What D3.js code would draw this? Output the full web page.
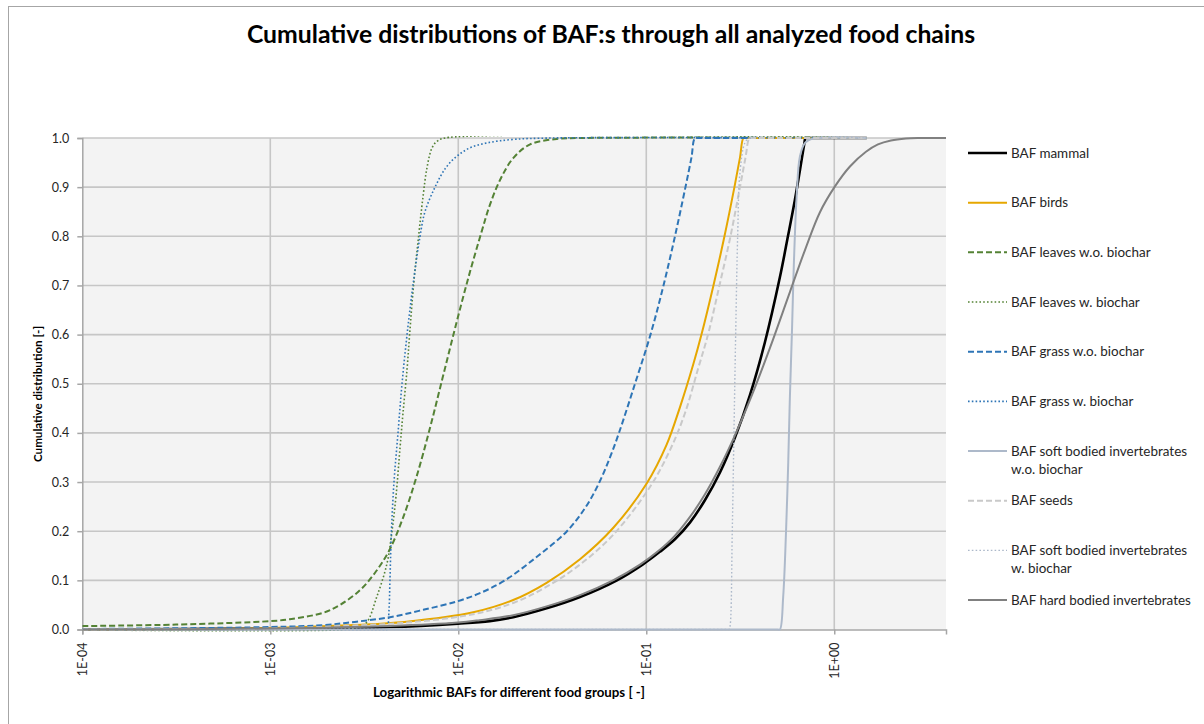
<!DOCTYPE html>
<html><head><meta charset="utf-8">
<script src="https://cdn.jsdelivr.net/npm/d3@7"></script>
<style>
html,body{margin:0;padding:0;background:#fff;}
svg{display:block;font-family:Lato,"Liberation Sans",sans-serif;}
</style></head>
<body><svg id="c" width="1204" height="724"></svg>
<script>
// ---------- data ----------
const chartTitle = "Cumulative distributions of BAF:s through all analyzed food chains";
const yTitle = "Cumulative distribution [-]";
const xTitle = "Logarithmic BAFs for different food groups [ -]";
const xTickValues = [1e-4, 1e-3, 1e-2, 1e-1, 1];
const xTickLabels = ["1E-04", "1E-03", "1E-02", "1E-01", "1E+00"];
const yTickValues = [0, 0.1, 0.2, 0.3, 0.4, 0.5, 0.6, 0.7, 0.8, 0.9, 1.0];

const seriesNames = ["BAF mammal", "BAF birds", "BAF leaves w.o. biochar", "BAF leaves w. biochar",
  "BAF grass w.o. biochar", "BAF grass w. biochar", "BAF soft bodied invertebrates\nw.o. biochar",
  "BAF seeds", "BAF soft bodied invertebrates\nw. biochar", "BAF hard bodied invertebrates"];

const mammalBAF = [0.0001, 0.001, 0.00433, 0.00996, 0.0147, 0.0196, 0.0295, 0.0444, 0.0698, 0.096, 0.118, 0.142, 0.171, 0.205, 0.247, 0.296, 0.356, 0.428, 0.514, 0.567, 0.618, 0.657, 0.694, 0.703, 0.725, 1.49];
const mammalCum = [0, 0.002, 0.005, 0.012, 0.017, 0.025, 0.043, 0.066, 0.1, 0.1325, 0.158, 0.1835, 0.218, 0.263, 0.32, 0.39, 0.477, 0.585, 0.717, 0.8, 0.875, 0.935, 0.99, 1.0, 1.0, 1.0];

const birdsBAF = [0.0001, 0.001, 0.00235, 0.00531, 0.0120, 0.0196, 0.0295, 0.0444, 0.0668, 0.1005, 0.128, 0.151, 0.178, 0.1966, 0.2277, 0.2606, 0.2944, 0.3151, 0.3289, 0.34, 1.49];
const birdsCum = [0, 0.003, 0.008, 0.016, 0.035, 0.06, 0.095, 0.143, 0.207, 0.297, 0.375, 0.452, 0.54, 0.6, 0.7, 0.8, 0.9, 0.96, 1.0, 1.0, 1.0];

const leavesWoBAF = [0.0001, 0.000315, 0.001, 0.00127, 0.00191, 0.00235, 0.0030, 0.0036, 0.00428, 0.00508, 0.00601, 0.00707, 0.00824, 0.0096, 0.0113, 0.0133, 0.0147, 0.0167, 0.0196, 0.0241, 0.0334, 0.0444, 1.49];
const leavesWoCum = [0.007, 0.01, 0.017, 0.021, 0.034, 0.05, 0.08, 0.115, 0.16, 0.227, 0.312, 0.41, 0.511, 0.612, 0.715, 0.809, 0.863, 0.915, 0.959, 0.987, 0.998, 1.0, 1.0];

const leavesWBAF = [0.0001, 0.00282, 0.00323, 0.00369, 0.00418, 0.00444, 0.00466, 0.0049, 0.00508, 0.00534, 0.00551, 0.00578, 0.00611, 0.00649, 0.00682, 0.00725, 0.0077, 0.0085, 1.49];
const leavesWCum = [0.0, 0.003, 0.013, 0.067, 0.135, 0.2, 0.27, 0.37, 0.44, 0.53, 0.6, 0.7, 0.79, 0.88, 0.94, 0.98, 0.993, 1.0, 1.0];

const grassWoBAF = [0.0001, 0.001, 0.00191, 0.00288, 0.00433, 0.00651, 0.0098, 0.01304, 0.01771, 0.0266, 0.03786, 0.04779, 0.05638, 0.0641, 0.07158, 0.08709, 0.1053, 0.1235, 0.1421, 0.1616, 0.1739, 0.1816, 0.19, 1.49];
const grassWoCum = [0.001, 0.005, 0.009, 0.016, 0.025, 0.04, 0.057, 0.074, 0.1, 0.15, 0.2, 0.25, 0.3, 0.35, 0.4, 0.5, 0.6, 0.7, 0.8, 0.9, 0.96, 1.0, 1.0, 1.0];

const grassWBAF = [0.0001, 0.0041, 0.00418, 0.00428, 0.00433, 0.00441, 0.00455, 0.00478, 0.00502, 0.00534, 0.00574, 0.00626, 0.00665, 0.00752, 0.0086, 0.00984, 0.01154, 0.01421, 0.0195, 0.0319, 1.49];
const grassWCum = [0, 0, 0, 0.04, 0.1, 0.2, 0.3, 0.4, 0.5, 0.6, 0.7, 0.8, 0.85, 0.9, 0.94, 0.963, 0.98, 0.99, 0.997, 1.0, 1.0];

const softWoBAF = [0.0001, 0.5, 0.514, 0.535, 0.554, 0.569, 0.581, 0.596, 0.61, 0.631, 0.657, 0.699, 0.773, 0.839, 1.49];
const softWoCum = [0, 0, 0, 0.067, 0.2, 0.339, 0.475, 0.61, 0.746, 0.882, 0.963, 0.99, 0.999, 1.0, 1.0];

const seedsBAF = [0.0001, 0.001, 0.00235, 0.00531, 0.0120, 0.0196, 0.0295, 0.0444, 0.0668, 0.1046, 0.1337, 0.1606, 0.1884, 0.213, 0.2451, 0.2805, 0.3151, 0.3371, 0.3539, 0.365, 1.49];
const seedsCum = [0, 0.002, 0.007, 0.014, 0.031, 0.054, 0.087, 0.132, 0.193, 0.29, 0.365, 0.44, 0.53, 0.6, 0.7, 0.8, 0.9, 0.96, 1.0, 1.0, 1.0];

const softWBAF = [0.0001, 0.27, 0.2754, 0.2787, 0.2867, 0.2927, 0.2989, 0.3063, 0.3151, 0.335, 0.356, 1.49];
const softWCum = [0, 0, 0, 0.005, 0.2, 0.4, 0.6, 0.8, 0.93, 0.99, 1.0, 1.0];

const hardBAF = [0.0001, 0.001, 0.00433, 0.00996, 0.013, 0.0196, 0.0295, 0.0444, 0.0665, 0.0926, 0.1154, 0.1421, 0.1708, 0.2052, 0.2466, 0.2963, 0.3561, 0.455, 0.5813, 0.6985, 0.8392, 1.0086, 1.2117, 1.4744, 1.708, 2.002, 2.406, 2.857, 3.93];
const hardCum = [0, 0.002, 0.007, 0.014, 0.019, 0.029, 0.047, 0.07, 0.1, 0.132, 0.159, 0.191, 0.229, 0.275, 0.331, 0.395, 0.467, 0.573, 0.687, 0.772, 0.849, 0.9015, 0.942, 0.972, 0.987, 0.995, 0.999, 1.0, 1.0];

const seriesBAF = [mammalBAF, birdsBAF, leavesWoBAF, leavesWBAF, grassWoBAF, grassWBAF, softWoBAF, seedsBAF, softWBAF, hardBAF];
const seriesCum = [mammalCum, birdsCum, leavesWoCum, leavesWCum, grassWoCum, grassWCum, softWoCum, seedsCum, softWCum, hardCum];

// ---------- styles ----------
const seriesStyle = [
  {color: "#000000", width: 2.6, dash: null},
  {color: "#e6a700", width: 2, dash: null},
  {color: "#548235", width: 2, dash: "6,3"},
  {color: "#548235", width: 1.6, dash: "1.6,2.2"},
  {color: "#2e75b6", width: 2, dash: "6,3"},
  {color: "#2e75b6", width: 1.6, dash: "1.6,2.2"},
  {color: "#adb9ca", width: 2, dash: null},
  {color: "#c9c9c9", width: 2, dash: "6,3"},
  {color: "#adb9ca", width: 1.4, dash: "1.6,2.2"},
  {color: "#808080", width: 2, dash: null}
];

const svg = d3.select("#c");
const plot = {left: 82.3, right: 946, top: 138, bottom: 629.5};

// chart border
svg.append("rect").attr("x", 8.5).attr("y", 6.5).attr("width", 1400).attr("height", 1000)
  .attr("fill", "#fff").attr("stroke", "#a6a6a6").attr("stroke-width", 1);

const x = d3.scaleLog().domain([1e-4, 3.93]).range([plot.left, plot.right]);
const y = d3.scaleLinear().domain([0, 1]).range([plot.bottom, plot.top]);

// plot background
svg.append("rect").attr("x", plot.left).attr("y", plot.top)
  .attr("width", plot.right - plot.left).attr("height", plot.bottom - plot.top).attr("fill", "#f3f3f3");

// gridlines
svg.append("g").selectAll("line").data(yTickValues.filter(d => d > 0)).join("line")
  .attr("x1", plot.left).attr("x2", plot.right).attr("y1", d => y(d)).attr("y2", d => y(d))
  .attr("stroke", "#c6c6c6").attr("stroke-width", 1.6);
svg.append("g").selectAll("line").data(xTickValues.slice(1)).join("line")
  .attr("x1", d => x(d)).attr("x2", d => x(d)).attr("y1", plot.top).attr("y2", plot.bottom)
  .attr("stroke", "#c6c6c6").attr("stroke-width", 1.6);

// axes
const yAxis = d3.axisLeft(y).tickValues(yTickValues).tickFormat(d3.format(".1f")).tickSize(5).tickPadding(8);
const gy = svg.append("g").attr("transform", `translate(${plot.left},0)`).call(yAxis);
gy.select(".domain").attr("stroke", "#a6a6a6").attr("stroke-width", 1.5);
gy.selectAll(".tick line").attr("stroke", "#a6a6a6").attr("stroke-width", 1.5);
gy.selectAll(".tick text").attr("font-size", 12.5).attr("fill", "#262626").attr("font-family", "Lato");

const xAxis = d3.axisBottom(x).tickValues(xTickValues).tickFormat((d, i) => xTickLabels[i]).tickSize(5);
const gx = svg.append("g").attr("transform", `translate(0,${plot.bottom})`).call(xAxis);
gx.select(".domain").attr("stroke", "#a6a6a6").attr("stroke-width", 1.5);
gx.selectAll(".tick line").attr("stroke", "#a6a6a6").attr("stroke-width", 1.5);
gx.selectAll(".tick text").attr("font-size", 12.5).attr("fill", "#262626").attr("font-family", "Lato")
  .attr("transform", "rotate(-90)").attr("text-anchor", "end").attr("x", -13).attr("y", 0).attr("dy", "0.35em");

// series
svg.append("clipPath").attr("id", "pc").append("rect")
  .attr("x", plot.left).attr("y", plot.top - 2).attr("width", plot.right - plot.left).attr("height", plot.bottom - plot.top + 4);
const line = d3.line().x(d => x(d[0])).y(d => y(d[1])).curve(d3.curveCatmullRom.alpha(0.5));
const gs = svg.append("g").attr("clip-path", "url(#pc)");
seriesBAF.forEach((bafs, i) => {
  const pts = bafs.map((b, j) => [b, seriesCum[i][j]]);
  const st = seriesStyle[i];
  gs.append("path").datum(pts).attr("d", line).attr("fill", "none")
    .attr("stroke", st.color).attr("stroke-width", st.width)
    .attr("stroke-dasharray", st.dash).attr("stroke-linejoin", "round");
});

// fit helper: scale font so the text spans the target width
function fitText(sel, target) {
  const w = sel.node().getComputedTextLength();
  const fs = parseFloat(sel.attr("font-size"));
  sel.attr("font-size", (fs * target / w).toFixed(2));
}

// title
const t = svg.append("text").attr("x", 611).attr("y", 43).attr("text-anchor", "middle")
  .attr("font-weight", "bold").attr("font-size", 22).attr("fill", "#000").text(chartTitle);
fitText(t, 728);

// axis titles
const yt = svg.append("text").attr("transform", "translate(42,394) rotate(-90)").attr("text-anchor", "middle")
  .attr("font-weight", "bold").attr("font-size", 12).attr("fill", "#000").text(yTitle);
fitText(yt, 136);
const xt = svg.append("text").attr("x", 509).attr("y", 697).attr("text-anchor", "middle")
  .attr("font-weight", "bold").attr("font-size", 12).attr("fill", "#000").text(xTitle);
fitText(xt, 272);

// legend
const lg = svg.append("g");
const legY0 = 153, legStep = 49.67;
const legFont = 13;
seriesNames.forEach((name, i) => {
  const yy = legY0 + i * legStep;
  const st = seriesStyle[i];
  lg.append("line").attr("x1", 968).attr("x2", 1007).attr("y1", yy).attr("y2", yy)
    .attr("stroke", st.color).attr("stroke-width", st.width).attr("stroke-dasharray", st.dash);
  name.split("\n").forEach((ln, k) => {
    lg.append("text").attr("class", "leg").attr("x", 1011).attr("y", yy + k * 18).attr("dy", "0.35em")
      .attr("font-size", legFont).attr("fill", "#262626").text(ln);
  });
});
const widest = lg.selectAll("text.leg").filter(function() { return this.textContent === "BAF hard bodied invertebrates"; });
const wW = widest.node().getComputedTextLength();
lg.selectAll("text.leg").attr("font-size", (legFont * 180 / wW).toFixed(2));
</script>
</body></html>
